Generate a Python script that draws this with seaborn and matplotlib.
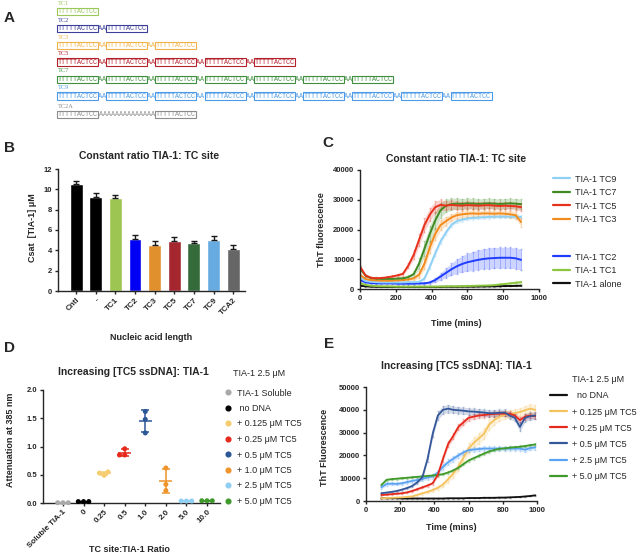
import numpy as np
import pandas as pd
import matplotlib
matplotlib.use("Agg")
import matplotlib.pyplot as plt
from matplotlib.lines import Line2D
from matplotlib.patches import Rectangle
import seaborn as sns

# ---------------- panel A: constructs
seq_names = ["TC1", "TC2", "TC3", "TC5", "TC7", "TC9", "TC2A"]
seq_repeats = [1, 2, 3, 5, 7, 9, 2]
seq_colors = ["#9cc75a", "#3b3f9a", "#f2b24a", "#b3222a", "#3f8f3f", "#4d9be6", "#8c8c8c"]
tc_site = "TTTTTACTCC"
linker = "AA"
tc2a_linker = "AAAAAAAAAAAAAA"

# ---------------- panel B: Csat bars
b_labels = ["Cntl", "-", "TC1", "TC2", "TC3", "TC5", "TC7", "TC9", "TCA2"]
b_csat = [10.55, 9.2, 9.1, 5.15, 4.55, 4.9, 4.7, 5.0, 4.15]
b_err = [0.3, 0.4, 0.35, 0.4, 0.4, 0.45, 0.25, 0.4, 0.4]
b_colors = ["#000000", "#000000", "#9dc551", "#0000f5", "#e0902c", "#a5262f", "#356b3b", "#67abe0", "#666666"]

# ---------------- panel C: ThT kinetics, constant ratio
c_time = [0, 30, 60, 90, 120, 150, 180, 210, 240, 270, 300, 330, 360, 390, 420, 450,
          480, 510, 540, 570, 600, 630, 660, 690, 720, 750, 780, 810, 840, 870, 900]
c_alone = [1100, 900, 800, 750, 700, 700, 700, 700, 700, 700, 700, 700, 700, 700, 700, 700,
           750, 750, 750, 800, 800, 800, 850, 850, 900, 900, 950, 1000, 1000, 1050, 1100]
c_tc1 = [2000, 1400, 1100, 1000, 900, 900, 850, 800, 800, 800, 800, 800, 800, 800, 800, 850,
         850, 900, 900, 950, 1000, 1050, 1100, 1150, 1200, 1300, 1500, 1700, 1900, 2100, 2300]
c_tc2 = [3000, 2300, 2000, 1900, 1900, 1900, 1900, 1800, 1800, 1800, 1800, 1900, 1900, 2200, 3000, 4200,
         5400, 6600, 7600, 8400, 9000, 9400, 9800, 10100, 10300, 10400, 10500, 10500, 10500, 10300, 9800]
c_tc9 = [3800, 2700, 2400, 2300, 2200, 2200, 2200, 2200, 2200, 2300, 2300, 2400, 3500, 7500, 12000, 16000,
         19000, 21500, 22800, 23300, 23700, 23900, 24000, 24100, 24200, 24300, 24300, 24300, 24300, 24300, 24200]
c_tc3 = [4800, 3400, 3000, 2900, 2800, 2800, 2800, 2900, 3000, 3200, 3600, 4800, 8500, 14000, 18500, 21500,
         22800, 24000, 24800, 25100, 25300, 25400, 25300, 25400, 25400, 25300, 25400, 25300, 25100, 24800, 22500]
c_tc7 = [7000, 4500, 3700, 3500, 3400, 3400, 3400, 3500, 3600, 4000, 5000, 8500, 13500, 18500, 23000, 26500,
         28000, 28500, 28700, 28600, 28800, 28700, 28600, 28700, 28800, 28700, 28600, 28700, 28800, 28700, 28500]
c_tc5 = [7600, 4600, 3800, 3600, 3700, 3900, 4200, 4600, 5100, 7900, 11500, 16500, 21500, 25000, 27500, 28300,
         28000, 28300, 28100, 28000, 28200, 28100, 28000, 28100, 28200, 28000, 27900, 28000, 27900, 27800, 27500]

c_alone_err = [200, 150, 150, 150, 150, 150, 150, 150, 150, 150, 150, 150, 150, 150, 150, 150,
               150, 150, 150, 150, 150, 150, 150, 150, 150, 150, 150, 150, 150, 150, 200]
c_tc1_err = [300, 200, 200, 200, 200, 200, 200, 200, 200, 200, 200, 200, 200, 200, 200, 200,
             200, 200, 200, 200, 250, 250, 250, 300, 300, 300, 350, 400, 400, 450, 500]
c_tc2_err = [500, 400, 300, 300, 300, 300, 300, 300, 300, 300, 300, 300, 400, 500, 800, 1200,
             1600, 2000, 2400, 2700, 3000, 3200, 3300, 3400, 3500, 3500, 3500, 3500, 3500, 3500, 3500]
c_tc9_err = [400, 300, 200, 200, 200, 200, 200, 200, 200, 200, 200, 300, 500, 800, 1000, 1000,
             900, 800, 700, 700, 600, 600, 600, 600, 600, 600, 600, 600, 600, 600, 600]
c_tc3_err = [500, 300, 300, 300, 300, 300, 300, 300, 300, 400, 600, 1200, 1800, 2000, 2000, 1800,
             1500, 1300, 1200, 1200, 1200, 1100, 1100, 1100, 1100, 1100, 1100, 1100, 1200, 1300, 1500]
c_tc7_err = [600, 400, 400, 400, 400, 400, 400, 400, 500, 600, 900, 1800, 2500, 2800, 2800, 2500,
             2200, 2000, 1900, 1800, 1800, 1800, 1700, 1700, 1700, 1700, 1700, 1700, 1700, 1700, 1700]
c_tc5_err = [600, 400, 400, 400, 400, 400, 400, 500, 600, 900, 1500, 2000, 2200, 2200, 2000, 1800,
             1500, 1500, 1400, 1400, 1300, 1300, 1300, 1300, 1200, 1200, 1200, 1200, 1200, 1200, 1300]

# ---------------- panel D: attenuation at 385 nm
d_groups = ["Soluble TIA-1", "0", "0.25", "0.5", "1.0", "2.0", "5.0", "10.0"]
d_legend = ["TIA-1 Soluble", " no DNA", "+ 0.125 \u03bcM TC5", "+ 0.25 \u03bcM TC5",
            "+ 0.5 \u03bcM TC5", "+ 1.0 \u03bcM TC5", "+ 2.5 \u03bcM TC5", "+ 5.0 \u03bcM TC5"]
d_reps = [[0.005, 0.005, 0.005], [0.025, 0.025, 0.025], [0.49, 0.55, 0.53], [0.85, 0.96, 0.85],
          [1.62, 1.48, 1.24], [0.62, 0.33, 0.22], [0.035, 0.035, 0.035], [0.04, 0.04, 0.04]]
d_colors = ["#a9a9a9", "#000000", "#f6cc70", "#e52a1c", "#2b5796", "#ef942b", "#8fcff4", "#3f9a2b"]

# ---------------- panel E: ThT kinetics, increasing TC5
e_time = [90, 120, 150, 180, 210, 240, 270, 300, 330, 360, 390, 420, 450, 480, 510, 540,
          570, 600, 630, 660, 690, 720, 750, 780, 810, 840, 870, 900, 930, 960, 990]
e_nodna = [1200, 1200, 1200, 1200, 1100, 1100, 1100, 1100, 1100, 1100, 1100, 1100, 1100, 1200, 1200, 1200,
           1200, 1300, 1300, 1300, 1400, 1400, 1400, 1500, 1500, 1600, 1700, 1800, 2000, 2200, 2500]
e_0125 = [1200, 1300, 1400, 1500, 1600, 1800, 2000, 2700, 3400, 4000, 4800, 5800, 7200, 9500, 12000, 15000,
          19000, 23000, 25500, 27500, 29500, 33500, 35500, 37000, 37800, 38200, 38500, 39000, 39800, 40500, 40000]
e_025 = [2600, 2800, 3000, 3200, 3400, 3800, 4400, 5200, 6000, 6800, 7800, 11500, 18500, 25000, 28500, 32500,
         34500, 36500, 37000, 37500, 37700, 38000, 38200, 38300, 38300, 38300, 37500, 35500, 37000, 37500, 37200]
e_05 = [3400, 3700, 4000, 4400, 5000, 5700, 6600, 8200, 10500, 18500, 29500, 37500, 40000, 40500, 40000, 39800,
        39600, 39300, 39200, 39000, 38800, 38500, 38500, 38700, 38800, 37500, 36500, 32500, 36500, 37200, 37500]
e_25 = [6000, 7500, 7600, 7500, 7800, 8300, 8800, 9200, 9700, 10300, 10800, 12500, 15000, 17000, 18500, 20000,
        21300, 22300, 22600, 22800, 23000, 23000, 23000, 23000, 23000, 23000, 23000, 23000, 22500, 23200, 23500]
e_50 = [7000, 9300, 9600, 9800, 10000, 10200, 10400, 10600, 10800, 11000, 11200, 11400, 11800, 12500, 13400, 14600,
        16200, 17800, 18800, 19800, 20800, 21700, 22400, 22900, 23100, 23400, 23600, 23800, 24100, 24500, 24800]

e_nodna_err = [150, 150, 150, 150, 150, 150, 150, 150, 150, 150, 150, 150, 150, 150, 150, 150,
               150, 150, 150, 150, 150, 150, 150, 150, 150, 150, 150, 150, 150, 200, 200]
e_0125_err = [300, 300, 300, 300, 300, 300, 400, 500, 600, 700, 800, 900, 1100, 1400, 1700, 2000,
              2300, 2500, 2500, 2500, 2500, 2500, 2200, 2000, 2000, 1800, 1800, 1800, 2000, 2200, 2200]
e_025_err = [300, 300, 300, 300, 300, 300, 400, 400, 500, 500, 600, 900, 1300, 1500, 1500, 1400,
             1300, 1200, 1200, 1200, 1200, 1200, 1200, 1200, 1200, 1200, 1300, 1500, 1300, 1300, 1300]
e_05_err = [400, 400, 400, 400, 400, 500, 600, 700, 900, 1300, 1600, 1800, 1800, 1700, 1600, 1500,
            1500, 1500, 1500, 1500, 1500, 1500, 1500, 1500, 1500, 1500, 1600, 2000, 1800, 1700, 1700]
e_25_err = [800, 800, 700, 700, 700, 700, 800, 800, 900, 1000, 1100, 1200, 1300, 1300, 1300, 1200,
            1100, 1000, 1000, 1000, 1000, 1000, 1000, 1000, 1000, 1000, 1000, 1000, 1200, 1000, 1000]
e_50_err = [500, 500, 500, 500, 500, 500, 500, 500, 500, 500, 500, 500, 500, 500, 600, 600,
            600, 600, 600, 600, 600, 600, 600, 600, 600, 600, 600, 600, 600, 600, 600]

W, H = 638, 555
sns.set_style("ticks")
plt.rcParams["font.family"] = ["Liberation Sans", "DejaVu Sans"]
plt.rcParams["axes.linewidth"] = 1.0
plt.rcParams["xtick.major.width"] = 1.0
plt.rcParams["ytick.major.width"] = 1.0
plt.rcParams["xtick.major.size"] = 2.5
plt.rcParams["ytick.major.size"] = 2.5

fig = plt.figure(figsize=(W / 100, H / 100), dpi=100)


def px_axes(left, top, right, bottom):
    return fig.add_axes([left / W, 1 - bottom / H, (right - left) / W, (bottom - top) / H])


def style_axes(ax, tick_size=5.5):
    sns.despine(ax=ax)
    ax.tick_params(labelsize=tick_size, pad=1.5)
    for lab in ax.get_xticklabels() + ax.get_yticklabels():
        lab.set_fontweight("bold")


def panel_letter(x, y, s):
    fig.text(x / W, 1 - y / H, s, fontsize=11, fontweight="bold", ha="left", va="center")


def error_band(ax, t, v, e, col):
    v, e = np.asarray(v), np.asarray(e)
    ax.fill_between(t, v - e, v + e, color=col, alpha=0.22, lw=0)
    ax.errorbar(t, v, yerr=e, fmt="none", ecolor=col, alpha=0.3, elinewidth=0.6, capsize=0.8)


# ---------------- A
ax_a = fig.add_axes([0, 1 - 125 / H, 1, 125 / H])
ax_a.set_xlim(0, W)
ax_a.set_ylim(125, 0)
ax_a.axis("off")
char_w = 4.1
x0 = 57
row_y = [11.5, 28.3, 45.5, 62, 79.3, 96, 114.5]
for name, n, col, yc in zip(seq_names, seq_repeats, seq_colors, row_y):
    ax_a.text(x0 + 1, yc - 8.3, name, color=col, fontsize=4.6, family="Liberation Serif", va="center")
    spacer = tc2a_linker if name == "TC2A" else linker
    x = x0
    for i in range(n):
        w = len(tc_site) * char_w
        ax_a.add_patch(Rectangle((x, yc - 3.6), w, 7.2, fill=False, ec=col, lw=0.8))
        ax_a.text(x + w / 2, yc, tc_site, color=col, fontsize=4.9, family="Liberation Mono",
                  ha="center", va="center")
        x += w
        if i < n - 1:
            sw = len(spacer) * char_w
            ax_a.text(x + sw / 2, yc, spacer, color=col, fontsize=4.9, family="Liberation Mono",
                      ha="center", va="center")
            x += sw
panel_letter(4, 18, "A")

# ---------------- B
ax_b = px_axes(58, 169, 245, 291)
sns.barplot(x=b_labels, y=b_csat, hue=b_labels, palette=b_colors, legend=False, width=0.66,
            errorbar=None, saturation=1, ax=ax_b)
ax_b.errorbar(range(len(b_labels)), b_csat, yerr=[np.zeros(len(b_err)), b_err], fmt="none",
              ecolor="#1a1a1a", elinewidth=1, capsize=2.5, capthick=1)
ax_b.set_xlim(-0.92, 8.6)
ax_b.set_ylim(0, 12)
ax_b.set_yticks(range(0, 13, 2))
style_axes(ax_b)
plt.setp(ax_b.get_xticklabels(), rotation=45, ha="right", rotation_mode="anchor", fontsize=5.8)
ax_b.set_xlabel("Nucleic acid length", fontsize=6.5, fontweight="bold")
ax_b.xaxis.set_label_coords(0.5, -0.344)
ax_b.set_ylabel("Csat  [TIA-1] \u03bcM", fontsize=6.5, fontweight="bold")
ax_b.yaxis.set_label_coords(-0.112, 0.52)
ax_b.text(0.487, 1.107, "Constant ratio TIA-1: TC site", transform=ax_b.transAxes,
          ha="center", va="center", fontsize=7.5, fontweight="bold")
panel_letter(4, 148, "B")

# ---------------- C
c_series = {
    "TIA-1 alone": (c_alone, c_alone_err, "#111111"),
    "TIA-1 TC1": (c_tc1, c_tc1_err, "#8cc63e"),
    "TIA-1 TC2": (c_tc2, c_tc2_err, "#1f3cff"),
    "TIA-1 TC9": (c_tc9, c_tc9_err, "#8fd0f5"),
    "TIA-1 TC3": (c_tc3, c_tc3_err, "#f28c1e"),
    "TIA-1 TC7": (c_tc7, c_tc7_err, "#3f8a22"),
    "TIA-1 TC5": (c_tc5, c_tc5_err, "#e8311c"),
}
c_long = pd.concat([pd.DataFrame({"time": c_time, "tht": v, "sample": k}) for k, (v, e, c) in c_series.items()])
ax_c = px_axes(360, 170, 539, 289)
for k, (v, e, col) in c_series.items():
    error_band(ax_c, c_time, v, e, col)
sns.lineplot(data=c_long, x="time", y="tht", hue="sample", palette={k: s[2] for k, s in c_series.items()},
             hue_order=list(c_series.keys()), linewidth=1.4, legend=False, errorbar=None, ax=ax_c)
ax_c.set_xlim(0, 1000)
ax_c.set_ylim(0, 40000)
ax_c.set_xticks(range(0, 1001, 200))
ax_c.set_yticks(range(0, 40001, 10000))
style_axes(ax_c)
ax_c.set_xlabel("Time (mins)", fontsize=6.5, fontweight="bold")
ax_c.xaxis.set_label_coords(0.536, -0.25)
ax_c.set_ylabel("ThT fluorescence", fontsize=6.5, fontweight="bold")
ax_c.yaxis.set_label_coords(-0.19, 0.5)
ax_c.text(0.536, 1.092, "Constant ratio TIA-1: TC site", transform=ax_c.transAxes,
          ha="center", va="center", fontsize=7.5, fontweight="bold")
leg_kw = dict(frameon=False, fontsize=6.5, handlelength=1.9, handletextpad=0.5, borderpad=0,
              borderaxespad=0, labelspacing=0.5, loc="upper left", bbox_transform=fig.transFigure)
top_keys = ["TIA-1 TC9", "TIA-1 TC7", "TIA-1 TC5", "TIA-1 TC3"]
bot_keys = ["TIA-1 TC2", "TIA-1 TC1", "TIA-1 alone"]
leg1 = ax_c.legend([Line2D([], [], color=c_series[k][2], lw=1.6) for k in top_keys], top_keys,
                   bbox_to_anchor=(553 / W, 1 - 174.5 / H), **leg_kw)
ax_c.add_artist(leg1)
ax_c.legend([Line2D([], [], color=c_series[k][2], lw=1.6) for k in bot_keys], bot_keys,
            bbox_to_anchor=(553 / W, 1 - 252.5 / H), **leg_kw)
panel_letter(322, 143, "C")

# ---------------- D
d_long = pd.DataFrame({"group": np.repeat(d_groups, 3), "att": np.concatenate(d_reps)})
ax_d = px_axes(43, 390, 220, 503)
for i, reps in enumerate(d_reps):
    m, sd = np.mean(reps), np.std(reps, ddof=1)
    ax_d.errorbar(i, m, yerr=sd, fmt="none", ecolor=d_colors[i], elinewidth=1.1, capsize=3.2, capthick=1.1, zorder=3)
    ax_d.hlines(m, i - 0.32, i + 0.32, color=d_colors[i], lw=1.1, zorder=3)
sns.swarmplot(data=d_long, x="group", y="att", hue="group", palette=d_colors, order=d_groups,
              size=3.6, legend=False, ax=ax_d, zorder=4, clip_on=False)
ax_d.set_xlim(-0.97, 7.63)
ax_d.set_ylim(0, 2.0)
ax_d.set_yticks([0, 0.5, 1.0, 1.5, 2.0])
ax_d.set_yticklabels(["0.0", "0.5", "1.0", "1.5", "2.0"])
style_axes(ax_d)
plt.setp(ax_d.get_xticklabels(), rotation=45, ha="right", rotation_mode="anchor", fontsize=5.8)
ax_d.set_xlabel("TC site:TIA-1 Ratio", fontsize=6.5, fontweight="bold")
ax_d.xaxis.set_label_coords(0.49, -0.372)
ax_d.set_ylabel("Attenuation at 385 nm", fontsize=6.5, fontweight="bold")
ax_d.yaxis.set_label_coords(-0.158, 0.56)
ax_d.text(0.508, 1.159, "Increasing [TC5 ssDNA]: TIA-1", transform=ax_d.transAxes,
          ha="center", va="center", fontsize=7.5, fontweight="bold")
ax_d.legend([Line2D([], [], ls="none", marker="o", ms=3.4, color=c) for c in d_colors], d_legend,
            frameon=False, fontsize=6.5, handlelength=1.0, handletextpad=0.5, borderpad=0,
            borderaxespad=0, labelspacing=0.72, loc="upper left", bbox_transform=fig.transFigure,
            bbox_to_anchor=(223.5 / W, 1 - 388.5 / H))
fig.text(233 / W, 1 - 373 / H, "TIA-1 2.5 \u03bcM", fontsize=6.5, va="center", ha="left")
panel_letter(4, 348, "D")

# ---------------- E
e_series = {
    "  no DNA": (e_nodna, e_nodna_err, "#111111"),
    "+ 0.125 \u03bcM TC5": (e_0125, e_0125_err, "#f5c35e"),
    "+ 2.5 \u03bcM TC5": (e_25, e_25_err, "#5aa2f2"),
    "+ 5.0 \u03bcM TC5": (e_50, e_50_err, "#3f9a2b"),
    "+ 0.25 \u03bcM TC5": (e_025, e_025_err, "#e52a1c"),
    "+ 0.5 \u03bcM TC5": (e_05, e_05_err, "#34579a"),
}
e_order = ["  no DNA", "+ 0.125 \u03bcM TC5", "+ 0.25 \u03bcM TC5", "+ 0.5 \u03bcM TC5",
           "+ 2.5 \u03bcM TC5", "+ 5.0 \u03bcM TC5"]
e_long = pd.concat([pd.DataFrame({"time": e_time, "tht": v, "sample": k}) for k, (v, e, c) in e_series.items()])
ax_e = px_axes(366, 387, 537, 501)
for k, (v, e, col) in e_series.items():
    error_band(ax_e, e_time, v, e, col)
sns.lineplot(data=e_long, x="time", y="tht", hue="sample", palette={k: s[2] for k, s in e_series.items()},
             hue_order=list(e_series.keys()), linewidth=1.3, legend=False, errorbar=None, ax=ax_e)
ax_e.set_xlim(0, 1000)
ax_e.set_ylim(0, 50000)
ax_e.set_xticks(range(0, 1001, 200))
ax_e.set_yticks(range(0, 50001, 10000))
style_axes(ax_e)
ax_e.set_xlabel("Time (mins)", fontsize=6.5, fontweight="bold")
ax_e.xaxis.set_label_coords(0.5, -0.19)
ax_e.set_ylabel("ThT Fluorescence", fontsize=6.5, fontweight="bold")
ax_e.yaxis.set_label_coords(-0.216, 0.47)
ax_e.text(0.526, 1.184, "Increasing [TC5 ssDNA]: TIA-1", transform=ax_e.transAxes,
          ha="center", va="center", fontsize=7.5, fontweight="bold")
ax_e.legend([Line2D([], [], color=e_series[k][2], lw=1.6) for k in e_order], e_order,
            frameon=False, fontsize=6.5, handlelength=1.9, handletextpad=0.5, borderpad=0,
            borderaxespad=0, labelspacing=0.78, loc="upper left", bbox_transform=fig.transFigure,
            bbox_to_anchor=(550 / W, 1 - 391.5 / H))
fig.text(572 / W, 1 - 379 / H, "TIA-1 2.5 \u03bcM", fontsize=6.5, va="center", ha="left")
panel_letter(324, 344, "E")

fig.savefig("out.png", dpi=100)
